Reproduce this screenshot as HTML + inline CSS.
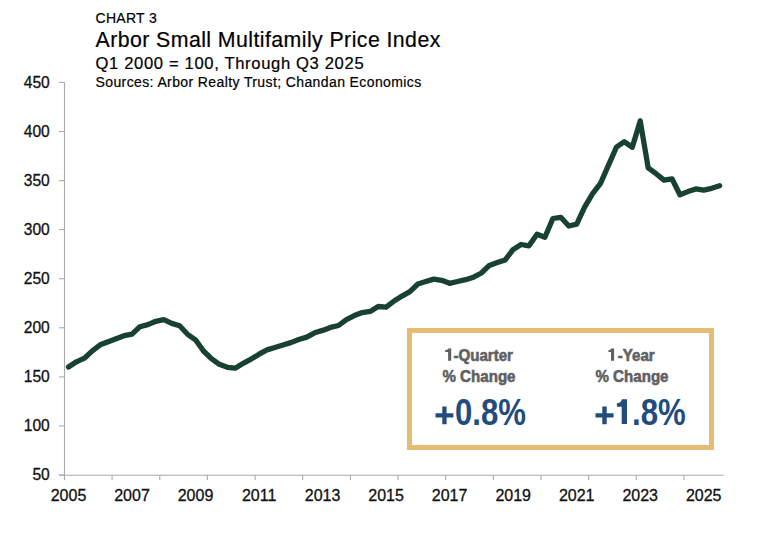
<!DOCTYPE html>
<html><head><meta charset="utf-8"><style>
html,body{margin:0;padding:0;background:#fff;}
body{width:768px;height:534px;position:relative;overflow:hidden;font-family:"Liberation Sans",sans-serif;color:#000;}
.t{position:absolute;left:95.5px;white-space:nowrap;line-height:1;-webkit-text-stroke:0.2px #000;}
#c3{top:10.85px;font-size:14px;letter-spacing:0.3px;}
#ti{top:29.6px;font-size:21.3px;letter-spacing:0.43px;}
#st{top:55.95px;font-size:16.6px;letter-spacing:0.65px;}
#so{top:75.15px;font-size:14px;letter-spacing:0.39px;}
svg{position:absolute;left:0;top:0;}
.box{position:absolute;left:406.8px;top:327.5px;width:297px;height:112px;border:5px solid #e4bc73;}
.lab{position:absolute;font-weight:bold;color:#5f6062;font-size:16.8px;line-height:21px;-webkit-text-stroke:0.6px #5f6062;text-align:center;white-space:nowrap;transform-origin:center top;}
.big{position:absolute;font-weight:bold;color:#234c7e;font-size:36px;line-height:1;white-space:nowrap;transform-origin:left top;}
.tr{color:transparent;-webkit-text-stroke-color:transparent;}
</style></head><body>
<div class="t" id="c3">CHART 3</div>
<div class="t" id="ti">Arbor Small Multifamily Price Index</div>
<div class="t" id="st">Q1 2000 = 100, Through Q3 2025</div>
<div class="t" id="so">Sources: Arbor Realty Trust; Chandan Economics</div>
<svg width="768" height="534" viewBox="0 0 768 534">
<g stroke="#aaaaaa" stroke-width="1.1" fill="none">
<line x1="64.5" y1="82.4" x2="64.5" y2="475"/>
<line x1="59" y1="475.2" x2="723.6" y2="475.2"/>
<line x1="59" y1="82.4" x2="64.5" y2="82.4"/><line x1="59" y1="131.5" x2="64.5" y2="131.5"/><line x1="59" y1="180.6" x2="64.5" y2="180.6"/><line x1="59" y1="229.6" x2="64.5" y2="229.6"/><line x1="59" y1="278.7" x2="64.5" y2="278.7"/><line x1="59" y1="327.8" x2="64.5" y2="327.8"/><line x1="59" y1="376.9" x2="64.5" y2="376.9"/><line x1="59" y1="425.9" x2="64.5" y2="425.9"/><line x1="59" y1="475.0" x2="64.5" y2="475.0"/><line x1="64.5" y1="475" x2="64.5" y2="480"/><line x1="112.1" y1="475" x2="112.1" y2="480"/><line x1="159.8" y1="475" x2="159.8" y2="480"/><line x1="207.4" y1="475" x2="207.4" y2="480"/><line x1="255.1" y1="475" x2="255.1" y2="480"/><line x1="302.7" y1="475" x2="302.7" y2="480"/><line x1="350.4" y1="475" x2="350.4" y2="480"/><line x1="398.0" y1="475" x2="398.0" y2="480"/><line x1="445.7" y1="475" x2="445.7" y2="480"/><line x1="493.3" y1="475" x2="493.3" y2="480"/><line x1="541.0" y1="475" x2="541.0" y2="480"/><line x1="588.6" y1="475" x2="588.6" y2="480"/><line x1="636.2" y1="475" x2="636.2" y2="480"/><line x1="683.9" y1="475" x2="683.9" y2="480"/>
</g>
<g font-family="Liberation Sans" font-size="15.6" fill="#111" stroke="#111" stroke-width="0.3" text-anchor="end"><text x="49.8" y="87.7">450</text><text x="49.8" y="136.8">400</text><text x="49.8" y="185.9">350</text><text x="49.8" y="234.9">300</text><text x="49.8" y="284.0">250</text><text x="49.8" y="333.1">200</text><text x="49.8" y="382.2">150</text><text x="49.8" y="431.2">100</text><text x="49.8" y="480.3">50</text></g>
<g font-family="Liberation Sans" font-size="16" fill="#111" stroke="#111" stroke-width="0.3" text-anchor="middle"><text x="68.5" y="500.6">2005</text><text x="132.0" y="500.6">2007</text><text x="195.5" y="500.6">2009</text><text x="259.1" y="500.6">2011</text><text x="322.6" y="500.6">2013</text><text x="386.1" y="500.6">2015</text><text x="449.6" y="500.6">2017</text><text x="513.2" y="500.6">2019</text><text x="576.7" y="500.6">2021</text><text x="640.2" y="500.6">2023</text><text x="703.7" y="500.6">2025</text></g>
<polyline points="68.5,367.0 76.4,361.8 84.4,358.2 92.3,350.9 100.2,344.8 108.2,341.7 116.1,338.7 124.1,335.7 132.0,334.1 139.9,326.7 147.9,324.6 155.8,321.3 163.8,319.7 171.7,323.4 179.6,325.8 187.6,334.3 195.5,339.8 203.5,351.0 211.4,358.6 219.3,364.3 227.3,367.3 235.2,368.2 243.2,363.3 251.1,359.1 259.1,354.2 267.0,349.9 274.9,347.5 282.9,345.0 290.8,342.6 298.8,339.5 306.7,337.1 314.6,332.8 322.6,330.4 330.5,327.4 338.5,325.5 346.4,319.6 354.3,315.6 362.3,312.6 370.2,311.4 378.2,306.5 386.1,307.1 394.1,301.0 402.0,296.1 409.9,291.6 417.9,284.0 425.8,281.5 433.8,279.1 441.7,280.3 449.6,283.3 457.6,281.5 465.5,279.7 473.5,277.2 481.4,273.0 489.3,265.4 497.3,262.6 505.2,259.9 513.2,249.4 521.1,244.5 529.0,245.8 537.0,234.2 544.9,237.2 552.9,218.5 560.8,217.3 568.8,226.0 576.7,224.1 584.6,207.1 592.6,193.7 600.5,183.4 608.5,165.1 616.4,147.2 624.3,141.7 632.3,147.2 640.2,120.9 648.2,167.9 656.1,173.7 664.0,180.1 672.0,178.8 679.9,194.7 687.9,191.6 695.8,188.9 703.7,190.1 711.7,188.3 719.6,185.8" fill="none" stroke="#18412f" stroke-width="5.3" stroke-linejoin="round" stroke-linecap="round"/>
</svg>
<div class="box"></div>
<svg width="768" height="534" viewBox="0 0 768 534" style="position:absolute;left:0;top:0;"><path d="M435.5 413.2H442.3V406.6H446.6V413.2H453.4V417.6H446.6V424.2H442.3V417.6H435.5Z M595.5 413.2H602.3V406.5H606.7V413.2H613.6V417.6H606.7V424.2H602.3V417.6H595.5Z M621.9 399.2H627V424.1H621.7V406.8H616.9V403.3C619.4 403.2 621.3 401.9 621.9 399.2Z" fill="#234c7e"/><path d="M448.1 348.4H451.2V360.7H448.1V352.1H445.2V350.1C446.7 350 447.8 349.4 448.1 348.4Z M611.0 348.6H614.1V360.7H611.0V352.1H608.4V350.2C609.8 350.1 610.8 349.6 611.0 348.6Z" fill="#5f6062"/></svg>
<div class="lab" id="l1" style="left:429px;top:345px;width:100px;transform:scaleX(0.9);"><span class="tr">1</span>-Quarter<br>% Change</div>
<div class="lab" id="l2" style="left:581.5px;top:345px;width:100px;transform:scaleX(0.9);"><span class="tr">1</span>-Year<br>% Change</div>
<div class="big" id="b1" style="left:454.7px;top:395.1px;transform:scaleX(0.865);">0.8%</div>
<div class="big" id="b2" style="left:632.2px;top:395.1px;transform:scaleX(0.865);">.8%</div>
</body></html>
